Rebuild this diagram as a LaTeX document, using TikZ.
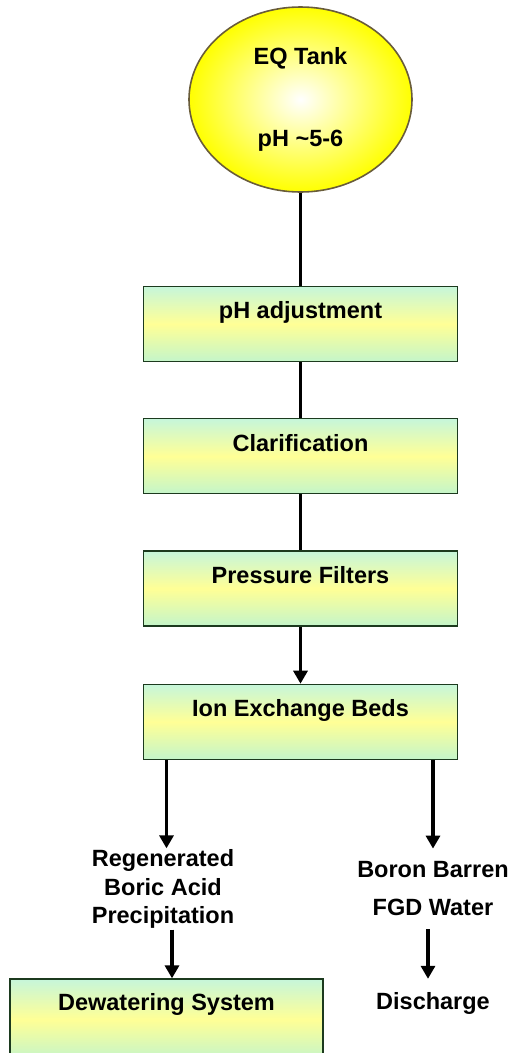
\documentclass[tikz,border=0pt]{standalone}
\usepackage{fontspec}
\setmainfont{Liberation Sans}
\usetikzlibrary{positioning,arrows.meta,shapes.geometric}

\definecolor{tankedge}{RGB}{105,92,58}
\definecolor{boxedge}{RGB}{28,58,30}
\definecolor{boxtop}{RGB}{198,246,218}
\definecolor{boxmid}{RGB}{255,255,150}
\definecolor{boxbot}{RGB}{196,245,202}

\tikzset{
  labelfont/.style={font=\fontsize{23.5}{28.5}\selectfont\bfseries},
  tankball/.style={ellipse, draw=tankedge, line width=1.6pt,
    inner color=white, outer color=yellow,
    minimum width=223pt, minimum height=185pt, inner sep=0pt,
    align=center, labelfont},
  stagebox/.style={rectangle, draw=boxedge, line width=1.3pt,
    top color=boxtop, bottom color=boxbot, middle color=boxmid,
    minimum width=314pt, text height=32.5pt, text depth=42.5pt,
    inner sep=0pt, labelfont},
  outtext/.style={align=center, inner sep=1pt, labelfont},
  flowline/.style={line width=3.2pt, black},
  flowarrow/.style={flowline, -{Triangle[width=14pt,length=13pt]}}
}

\begin{document}
\begin{tikzpicture}[x=1pt, y=-1pt]
  \useasboundingbox (0,0) rectangle (512,1053);

  % main treatment train
  \node[tankball] (eqtank) at (300.5,99.5) {EQ Tank\\[53pt]pH \textasciitilde5-6};
  \node[stagebox, below=93pt of eqtank] (phadj) {pH adjustment};
  \node[stagebox, below=56pt of phadj] (clarif) {Clarification};
  \node[stagebox, below=56pt of clarif] (pfilter) {Pressure Filters};
  \node[stagebox, below=57pt of pfilter] (ionbeds) {Ion Exchange Beds};

  % the two outlets
  \node[outtext] (regen) at (163,889) {Regenerated\\Boric Acid\\Precipitation};
  \node[outtext, inner ysep=13pt] (barren) at (433,889) {Boron Barren\\[9.5pt]FGD Water};
  \node[outtext, inner ysep=13pt] (discharge) at (433,1003) {Discharge};
  \node[stagebox, minimum width=313pt, text height=31.5pt, text depth=49.5pt]
    (dewater) at (166.5,1019.5) {Dewatering System};

  \draw[flowline] (eqtank) -- (phadj);
  \draw[flowline] (phadj) -- (clarif);
  \draw[flowline] (clarif) -- (pfilter);
  \draw[flowarrow] (pfilter) -- (ionbeds);
  \draw[flowarrow] (ionbeds.south -| dewater.north) -- (dewater.north |- regen.north);
  \draw[flowarrow] (ionbeds.south -| barren.north) -- (barren.north);
  \draw[flowarrow] ([xshift=9pt]regen.south) -- ([xshift=9pt]regen.south |- dewater.north);
  \draw[flowarrow] ([xshift=-5pt]barren.south) -- ([xshift=-5pt]discharge.north);
\end{tikzpicture}
\end{document}
